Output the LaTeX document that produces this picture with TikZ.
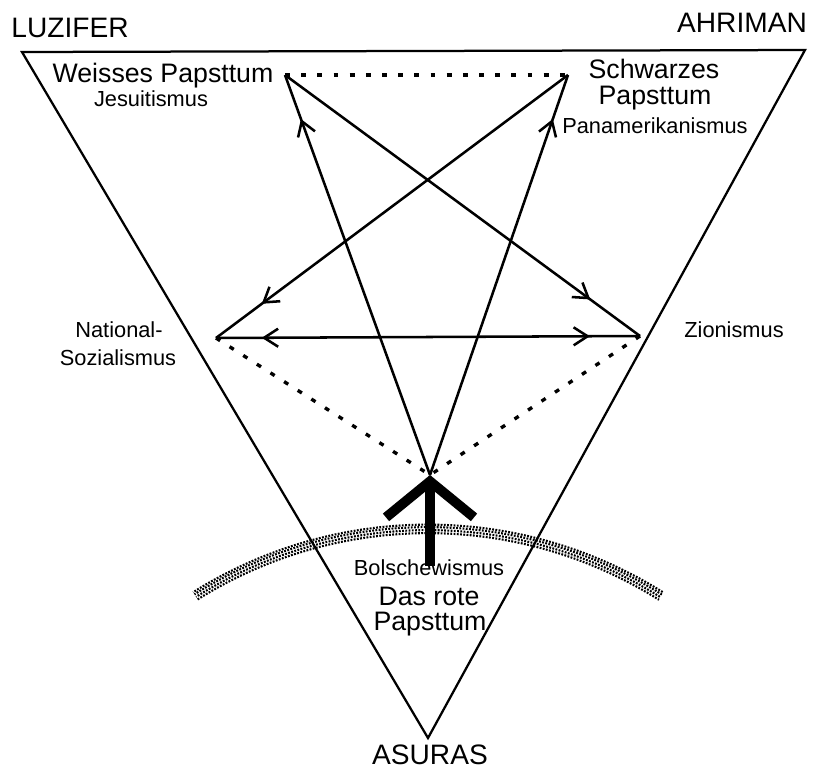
\documentclass[tikz,border=0pt]{standalone}
\usepackage{fontspec}
\setmainfont{Liberation Sans}
\usetikzlibrary{arrows.meta, decorations.markings}

\begin{document}
\begin{tikzpicture}[
		x=0.025cm, y=-0.025cm,
		>={Straight Barb[length=3.5mm, width=4.5mm]},
		frame/.style={line width=1.6pt, line join=miter},
		edge/.style={line width=1.8pt},
		link/.style={line width=2.4pt, dash pattern=on 3.5pt off 8pt},
		midtip/.style={postaction={decorate}, decoration={markings, mark=at position #1 with {\arrow{>}}}},
		twotips/.style 2 args={postaction={decorate}, decoration={markings,
			mark=at position #1 with {\arrowreversed{>}},
			mark=at position #2 with {\arrow{>}}}},
		bigtip/.style={line width=7pt, -{Straight Barb[length=9mm, width=22mm]}},
		horizon/.style={line width=1.5pt, dash pattern=on 1.3pt off 1pt},
		big/.style={font=\fontsize{20}{22}\selectfont, anchor=base},
		mid/.style={font=\fontsize{19}{21}\selectfont, anchor=base},
		small/.style={font=\fontsize{15.5}{17}\selectfont, anchor=base}
	]
	\useasboundingbox (0,0) rectangle (817,771);
	
	% Corners
	\coordinate (luz) at (22,52);
	\coordinate (ahr) at (805,50);
	\coordinate (asu) at (428,738);
	
	% Points of the star
	\coordinate (weiss) at (285,75);
	\coordinate (schwarz) at (568,75);
	\coordinate (natsoz) at (216,338);
	\coordinate (zion) at (640,336);
	\coordinate (bolsch) at (430,475);
	\coordinate (foot) at (430,566);
	
	% Horizon
	\foreach \r/\o in {433.5/0pt, 436.5/0.9pt, 439.5/0.4pt, 442/1.2pt}
		\draw[horizon, dash phase=\o] (428,966.6) ++(-122.1:\r) arc[start angle=-122.1, end angle=-57.8, radius=\r];
	
	% Triangle
	\draw[frame] (luz) -- (ahr) -- (asu) -- cycle;
	
	% Labels
	\node[big] (luzlbl) at (70,37) {LUZIFER};
	\node[big] (ahrlbl) at (742,32) {AHRIMAN};
	\node[big] (asulbl) at (430,764) {ASURAS};
	\node[mid] (weisslbl) at (163,82) {Weisses Papsttum};
	\node[small] (jesulbl) at (151,106) {Jesuitismus};
	\node[mid] (schwarzlbl) at (654,78) {Schwarzes};
	\node[mid] (paps1lbl) at (655,104) {Papsttum};
	\node[small] (panamlbl) at (655,133) {Panamerikanismus};
	\node[small] (natlbl) at (119,337) {National-};
	\node[small] (sozlbl) at (118,365) {Sozialismus};
	\node[small] (zionlbl) at (734,337) {Zionismus};
	\node[small] (bolschlbl) at (429,575) {Bolschewismus};
	\node[mid] (rotelbl) at (429,605) {Das rote};
	\node[mid] (paps2lbl) at (430,630) {Papsttum};
	
	% Dotted links
	\draw[link] (weiss) -- (schwarz);
	\draw[link] (natsoz) -- (bolsch);
	\draw[link] (zion) -- (bolsch);
	
	% Star
	\draw[edge, midtip=0.86] (weiss) -- (zion);
	\draw[edge, midtip=0.87] (schwarz) -- (natsoz);
	\draw[edge, twotips={0.108}{0.882}] (natsoz) -- (zion);
	\draw[edge, midtip=0.89] (bolsch) -- (weiss);
	\draw[edge, midtip=0.89] (bolsch) -- (schwarz);
	
	% Thick arrow
	\draw[bigtip] (foot) -- (bolsch);
	
\end{tikzpicture}
\end{document}
